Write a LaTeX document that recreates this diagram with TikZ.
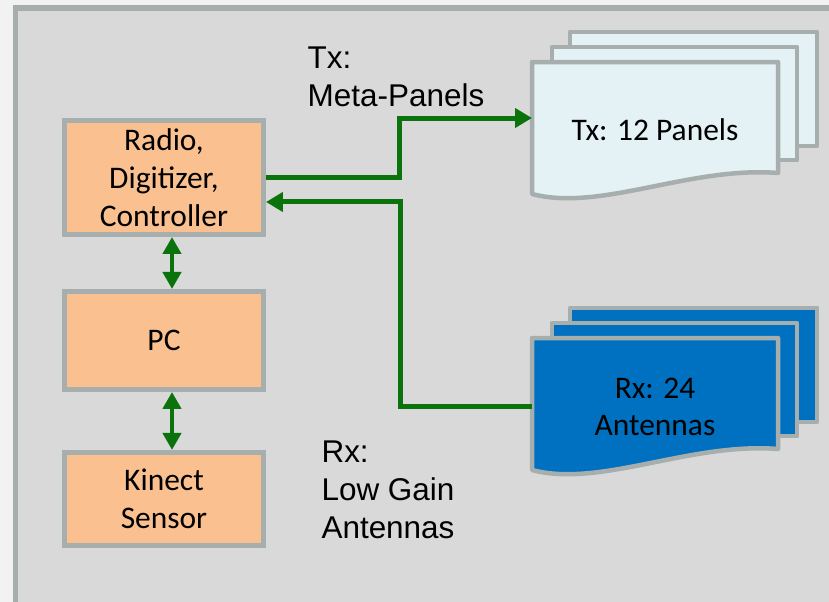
\documentclass[tikz,border=0pt]{standalone}
\usepackage{fontspec}
\setmainfont{Carlito}
\newfontfamily\labelfont{Liberation Sans}
\usepackage{tikz}
\usetikzlibrary{positioning,arrows.meta}
\definecolor{RSBack}{HTML}{F2F2F2}
\definecolor{RSPanel}{HTML}{D9D9D9}
\definecolor{RSLine}{HTML}{A6AEAE}
\definecolor{RSOrange}{HTML}{FAC090}
\definecolor{RSTx}{HTML}{E4F1F5}
\definecolor{RSRx}{HTML}{0070C0}
\definecolor{RSGreen}{HTML}{0B730B}

\begin{document}
\begin{tikzpicture}[x=0.02cm,y=-0.02cm,
  box/.style={draw=RSLine,line width=0.1cm,fill=RSOrange,minimum width=3.98cm,align=center,font=\fontsize{17.9}{21.5}\selectfont},
  sheet/.style={draw=RSLine,line width=0.09cm,line join=round},
  link/.style={draw=RSGreen,line width=0.1cm},
  tip/.style={-{Triangle[length=0.34cm,width=0.38cm]}},
  dtip/.style={{Triangle[length=0.34cm,width=0.36cm]}-{Triangle[length=0.34cm,width=0.36cm]}},
  lab/.style={align=left,font=\labelfont\fontsize{17.9}{21.5}\selectfont}]
\useasboundingbox (0,0) rectangle (829,602);
\fill[RSBack] (0,0) rectangle (829,602);
\draw[fill=RSPanel,draw=RSLine,line width=0.11cm] (15.5,8) rectangle (850,605);

% stacked sheets, Tx on top and Rx below
\foreach \dy/\col in {0/RSTx,276/RSRx} {
  \draw[sheet,fill=\col] (570,32+\dy) rectangle (817,146+\dy);
  \draw[sheet,fill=\col] (552,47+\dy) rectangle (797,160+\dy);
  \draw[sheet,fill=\col] (532,62+\dy) -- (778,62+\dy) -- (778,173+\dy)
    .. controls (690,166+\dy) and (600,212+\dy) .. (532,194+\dy) -- cycle;
}
\node[font=\fontsize{17.9}{21.5}\selectfont] (txsheet) at (655,130) {Tx: 12 Panels};
\node[font=\fontsize{17.9}{21.5}\selectfont,align=center] (rxsheet) at (655,407) {Rx: 24\\Antennas};
\coordinate (txin) at (532,118);
\coordinate (rxout) at (532,406);

\node[box,minimum height=2.28cm] (radio) at (164,177.5) {Radio,\\Digitizer,\\Controller};
\node[box,minimum height=1.96cm,below=1.04cm of radio] (pc) {PC};
\node[box,minimum height=1.86cm,below=1.16cm of pc] (kinect) {Kinect\\Sensor};

\draw[link,tip] (radio.east) -- ++(134,0) |- (txin);
\draw[link,tip] (rxout) -- ++(-132,0) |- ([yshift=-0.49cm]radio.east);
\draw[link,dtip] ([xshift=0.16cm]radio.south) -- ([xshift=0.16cm]pc.north);
\draw[link,dtip] ([xshift=0.16cm]pc.south) -- ([xshift=0.16cm]kinect.north);

\node[lab] (txlab) at (396,77) {Tx:\\Meta-Panels};
\node[lab] (rxlab) at (388,490) {Rx:\\Low Gain\\Antennas};
\end{tikzpicture}
\end{document}
